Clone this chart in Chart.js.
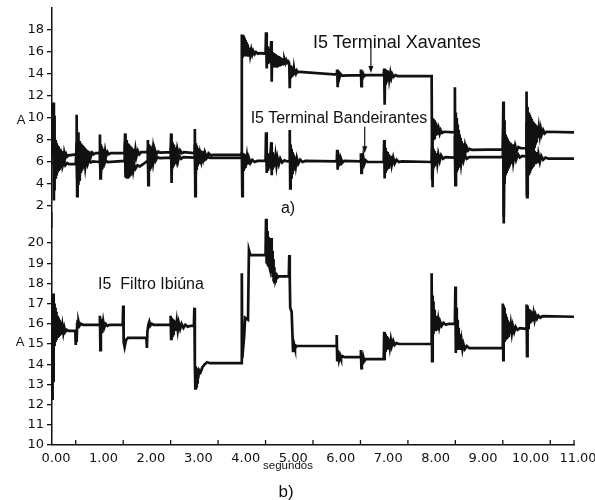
<!DOCTYPE html>
<html>
<head>
<meta charset="utf-8">
<script src="https://cdn.jsdelivr.net/npm/chart.js@4.4.1/dist/chart.umd.min.js"></script>
<style>
  html, body { margin: 0; padding: 0; background: #fff; }
  #wrap { position: relative; width: 595px; height: 500px; overflow: hidden; font-family: "Liberation Sans", Arial, sans-serif; color: #111; }
  canvas { position: absolute; left: 0; }
  #topChart { top: 0; }
  #bottomChart { top: 200px; }
  .lbl { position: absolute; transform: translate(-50%, -50%); white-space: nowrap; line-height: 1; }
</style>
</head>
<body>
<div id="wrap">
  <canvas id="bottomChart" width="595" height="300"></canvas>
  <canvas id="topChart" width="595" height="236"></canvas>
  <div class="lbl" style="left:21px;top:119px;font-size:13px">A</div>
  <div class="lbl" style="left:397px;top:42px;font-size:18px">I5 Terminal Xavantes</div>
  <div class="lbl" style="left:339px;top:118px;font-size:16px">I5 Terminal Bandeirantes</div>
  <div class="lbl" style="left:288px;top:208px;font-size:16px">a)</div>
  <div class="lbl" style="left:20px;top:341px;font-size:13px">A</div>
  <div class="lbl" style="left:151px;top:284px;font-size:16px">I5&nbsp; Filtro Ibiúna</div>
  <div class="lbl" style="left:288px;top:466px;font-size:11.5px">segundos</div>
  <div class="lbl" style="left:286px;top:491px;font-size:17px">b)</div>
</div>
<script>
// time (s), current (A)
const xavantes = [
  [0.00, 6.6], [0.02, 6.6],
  [0.03, 11.4], [0.04, 2.5], [0.045, 10.2], [0.05, 3.4], [0.06, 8.3], [0.07, 4.6], [0.08, 8.0], [0.09, 4.9], [0.10, 7.7], [0.11, 5.2], [0.12, 7.5], [0.13, 5.4], [0.14, 7.4], [0.15, 5.6], [0.16, 7.2], [0.17, 5.8], [0.18, 7.1], [0.19, 6.0], [0.20, 7.0], [0.21, 6.1], [0.22, 6.9], [0.23, 6.2], [0.24, 6.85], [0.25, 6.3], [0.26, 6.8], [0.28, 6.4], [0.30, 6.7], [0.32, 6.5], [0.35, 6.6],
  [0.51, 6.7], [0.52, 10.3], [0.53, 2.9], [0.54, 8.0], [0.55, 8.7], [0.555, 3.9], [0.56, 8.0], [0.57, 4.4], [0.58, 7.9], [0.59, 4.7], [0.60, 7.7], [0.61, 5.0], [0.62, 7.6], [0.63, 5.2], [0.64, 7.5], [0.65, 5.4], [0.66, 7.4], [0.67, 5.6], [0.68, 7.3], [0.69, 5.8], [0.70, 7.2], [0.71, 5.9], [0.72, 7.1], [0.73, 6.0], [0.74, 7.05], [0.75, 6.1], [0.76, 7.0], [0.78, 6.3], [0.80, 6.95], [0.82, 6.5], [0.85, 6.85], [0.88, 6.7], [0.92, 6.8],
  [1.00, 6.8], [1.01, 8.5], [1.02, 4.5], [1.03, 7.6], [1.04, 5.6], [1.05, 7.4], [1.06, 5.9], [1.07, 7.2], [1.08, 6.1], [1.09, 7.1], [1.10, 6.3], [1.12, 7.0], [1.14, 6.5], [1.17, 6.9], [1.20, 6.7], [1.24, 6.8],
  [1.53, 6.8], [1.54, 8.6], [1.55, 5.0], [1.56, 8.0], [1.57, 5.3], [1.58, 7.8], [1.59, 5.5], [1.60, 7.7], [1.61, 5.7], [1.62, 7.6], [1.63, 5.9], [1.64, 7.5], [1.65, 6.0], [1.66, 7.4], [1.67, 6.1], [1.68, 7.3], [1.70, 6.2], [1.72, 7.2], [1.74, 6.3], [1.76, 7.1], [1.78, 6.5], [1.81, 7.0], [1.84, 6.7], [1.88, 6.9],
  [2.01, 6.9], [2.02, 8.0], [2.03, 5.4], [2.04, 7.6], [2.05, 5.7], [2.06, 7.5], [2.07, 5.9], [2.08, 7.4], [2.09, 6.1], [2.10, 7.3], [2.11, 6.3], [2.13, 7.2], [2.15, 6.5], [2.17, 7.1], [2.20, 6.7], [2.24, 6.95], [2.28, 6.85],
  [2.50, 6.9], [2.51, 8.6], [2.52, 5.6], [2.53, 7.8], [2.54, 5.9], [2.55, 7.6], [2.56, 6.1], [2.57, 7.4], [2.58, 6.3], [2.60, 7.3], [2.62, 6.5], [2.64, 7.2], [2.67, 6.6], [2.70, 7.05], [2.74, 6.8], [2.78, 6.9],
  [3.00, 6.8], [3.01, 9.0], [3.02, 2.9], [3.03, 7.7], [3.04, 5.6], [3.05, 7.5], [3.06, 5.8], [3.07, 7.3], [3.08, 6.0], [3.09, 7.2], [3.10, 6.1], [3.12, 7.1], [3.14, 6.2], [3.16, 7.0], [3.19, 6.3], [3.22, 6.9], [3.26, 6.4], [3.30, 6.8], [3.35, 6.6], [3.40, 6.65],
  [3.99, 6.65], [4.00, 17.6], [4.005, 15.6], [4.01, 17.6], [4.02, 15.6], [4.03, 17.5], [4.04, 15.6], [4.05, 17.3], [4.06, 15.6], [4.07, 17.1], [4.08, 15.6], [4.09, 16.9], [4.10, 15.6], [4.11, 16.7], [4.12, 15.65], [4.13, 16.6], [4.14, 15.7], [4.15, 16.4], [4.16, 15.7], [4.17, 16.3], [4.18, 15.75], [4.20, 16.2], [4.22, 15.8], [4.24, 16.1], [4.27, 15.8], [4.30, 16.0], [4.34, 15.85], [4.38, 15.9],
  [4.50, 15.85], [4.51, 17.8], [4.52, 14.5], [4.53, 16.7], [4.54, 15.0], [4.55, 16.5], [4.56, 15.1], [4.57, 16.3], [4.58, 15.2], [4.59, 16.2], [4.60, 15.3], [4.61, 16.1],
  [4.62, 17.0], [4.63, 13.3], [4.64, 16.0], [4.65, 14.6], [4.66, 15.9], [4.67, 14.6], [4.68, 15.85], [4.69, 14.65], [4.70, 15.8], [4.71, 14.7], [4.72, 15.75], [4.73, 14.7], [4.74, 15.7], [4.75, 14.75], [4.76, 15.65], [4.77, 14.8], [4.78, 15.6], [4.79, 14.8], [4.80, 15.55], [4.81, 14.85], [4.82, 15.5], [4.83, 14.9], [4.84, 15.45], [4.85, 14.9], [4.86, 15.4], [4.87, 14.95], [4.88, 15.35], [4.89, 14.95], [4.90, 15.3], [4.92, 15.0], [4.94, 15.25], [4.96, 15.05], [4.98, 15.15], [4.99, 15.1],
  [5.00, 14.8], [5.01, 12.7], [5.02, 14.8], [5.03, 13.6], [5.04, 14.7], [5.05, 13.7], [5.06, 14.6], [5.07, 13.8], [5.08, 14.5], [5.09, 13.9], [5.10, 14.45], [5.11, 14.0], [5.12, 14.4], [5.14, 14.05], [5.16, 14.3], [5.18, 14.15], [5.22, 14.2],
  [6.00, 13.95], [6.01, 14.4], [6.02, 12.8], [6.03, 14.3], [6.04, 13.5], [6.05, 14.1], [6.06, 13.7], [6.08, 14.0], [6.11, 13.85],
  [6.50, 13.9], [6.51, 14.4], [6.52, 12.9], [6.53, 14.2], [6.54, 13.6], [6.56, 14.0], [6.58, 13.8], [6.61, 13.9],
  [6.99, 13.9], [7.00, 14.5], [7.01, 11.2], [7.02, 14.4], [7.03, 13.0], [7.04, 14.35], [7.05, 13.2], [7.06, 14.3], [7.07, 13.35], [7.08, 14.2], [7.09, 13.45], [7.10, 14.15], [7.11, 13.55], [7.13, 14.1], [7.15, 13.65], [7.17, 14.0], [7.20, 13.75], [7.24, 13.9], [7.28, 13.8],
  [8.00, 13.8], [8.01, 4.5], [8.02, 10.0], [8.03, 8.1], [8.04, 9.9], [8.05, 8.2], [8.06, 9.8], [8.07, 8.3], [8.08, 9.6], [8.09, 8.4], [8.10, 9.4], [8.11, 8.45], [8.12, 9.2], [8.13, 8.5], [8.15, 9.0], [8.17, 8.6], [8.19, 8.9], [8.22, 8.65], [8.26, 8.75],
  [8.48, 8.7], [8.49, 12.8], [8.50, 3.9], [8.51, 10.5], [8.52, 6.2], [8.53, 10.0], [8.54, 6.5], [8.55, 9.4], [8.56, 6.6], [8.57, 8.9], [8.58, 6.7], [8.59, 8.5], [8.60, 6.8], [8.61, 8.2], [8.62, 6.85], [8.63, 7.9], [8.64, 6.9], [8.66, 7.7], [8.68, 6.95], [8.70, 7.5], [8.72, 7.0], [8.74, 7.35], [8.77, 7.05], [8.80, 7.2], [8.85, 7.1],
  [9.50, 7.15], [9.51, 11.5], [9.52, 0.4], [9.53, 9.8], [9.535, 4.0], [9.54, 8.8], [9.55, 5.4], [9.56, 8.5], [9.57, 5.6], [9.58, 8.3], [9.59, 5.8], [9.60, 8.1], [9.61, 6.0], [9.62, 7.9], [9.63, 6.2], [9.64, 7.8], [9.65, 6.4], [9.67, 7.7], [9.69, 6.6], [9.71, 7.6], [9.73, 6.8], [9.76, 7.5], [9.79, 7.0], [9.83, 7.35], [9.88, 7.25],
  [9.99, 7.25], [10.00, 12.4], [10.01, 2.8], [10.015, 11.0], [10.02, 4.7], [10.03, 10.7], [10.04, 5.0], [10.05, 10.5], [10.06, 5.4], [10.07, 10.3], [10.08, 5.8], [10.09, 10.1], [10.10, 6.2], [10.11, 9.9], [10.12, 6.6], [10.13, 9.7], [10.14, 7.0], [10.15, 9.6], [10.16, 7.4], [10.17, 9.5], [10.18, 7.7], [10.19, 9.4], [10.20, 7.9], [10.21, 9.3], [10.22, 8.1], [10.23, 9.2], [10.24, 8.2], [10.26, 9.1], [10.28, 8.4], [10.30, 9.0], [10.32, 8.5], [10.35, 8.9], [10.38, 8.6], [10.42, 8.75], [11.00, 8.7]
];

const bandeirantes = [
  [0.00, 5.8], [0.03, 5.8], [0.04, 7.9], [0.05, 4.6], [0.06, 7.4], [0.07, 4.9], [0.08, 7.1], [0.09, 5.1], [0.10, 6.9], [0.11, 5.2], [0.12, 6.7], [0.13, 5.3], [0.14, 6.6], [0.15, 5.4], [0.16, 6.5], [0.18, 5.5], [0.20, 6.3], [0.22, 5.6], [0.25, 6.1], [0.28, 5.7], [0.32, 5.9], [0.36, 5.8],
  [0.50, 5.8], [0.52, 7.8], [0.53, 4.6], [0.54, 7.3], [0.55, 4.8], [0.56, 7.1], [0.57, 4.9], [0.58, 6.9], [0.59, 5.0], [0.60, 6.8], [0.61, 5.2], [0.62, 6.7], [0.63, 5.3], [0.64, 6.6], [0.66, 5.5], [0.68, 6.5], [0.70, 5.6], [0.72, 6.4], [0.75, 5.8], [0.78, 6.2], [0.82, 5.95], [0.86, 6.05],
  [1.00, 6.0], [1.01, 7.0], [1.02, 5.0], [1.03, 6.7], [1.04, 5.4], [1.05, 6.5], [1.06, 5.6], [1.08, 6.3], [1.10, 5.8], [1.13, 6.15], [1.17, 6.0],
  [1.53, 6.1], [1.54, 7.8], [1.55, 4.6], [1.56, 7.0], [1.57, 4.5], [1.58, 6.6], [1.59, 4.6], [1.60, 6.3], [1.61, 4.7], [1.62, 6.1], [1.63, 4.8], [1.64, 6.0], [1.65, 4.9], [1.66, 5.9], [1.67, 5.0], [1.69, 5.8], [1.71, 5.2], [1.73, 5.75], [1.76, 5.4], [1.80, 5.7], [1.85, 5.6], [1.92, 5.8], [1.98, 6.0],
  [2.01, 6.1], [2.02, 7.2], [2.03, 3.9], [2.04, 6.9], [2.05, 5.3], [2.06, 6.8], [2.07, 5.5], [2.08, 6.7], [2.09, 5.7], [2.11, 6.6], [2.13, 5.9], [2.15, 6.5], [2.18, 6.1], [2.22, 6.45], [2.27, 6.35],
  [2.50, 6.4], [2.51, 7.4], [2.52, 4.1], [2.53, 7.0], [2.54, 5.4], [2.55, 6.9], [2.56, 5.6], [2.58, 6.8], [2.60, 5.8], [2.62, 6.7], [2.65, 6.0], [2.68, 6.6], [2.72, 6.3], [2.77, 6.45],
  [3.00, 6.4], [3.01, 7.6], [3.02, 5.0], [3.03, 7.1], [3.04, 5.4], [3.05, 6.9], [3.06, 5.6], [3.08, 6.8], [3.10, 5.8], [3.12, 6.7], [3.15, 6.0], [3.18, 6.6], [3.22, 6.2], [3.27, 6.45], [3.33, 6.38],
  [3.99, 6.38], [4.00, 6.9], [4.01, 2.9], [4.02, 6.8], [4.03, 5.3], [4.04, 6.8], [4.05, 5.5], [4.06, 6.7], [4.07, 5.6], [4.08, 6.6], [4.09, 5.7], [4.11, 6.5], [4.13, 5.8], [4.15, 6.35], [4.18, 5.9], [4.22, 6.2], [4.27, 6.0], [4.33, 6.1],
  [4.50, 6.1], [4.51, 8.7], [4.52, 5.0], [4.53, 7.0], [4.54, 5.3], [4.55, 6.8], [4.56, 5.5], [4.57, 6.6], [4.58, 5.6], [4.60, 6.5],
  [4.62, 7.8], [4.63, 4.8], [4.64, 6.9], [4.65, 5.3], [4.66, 6.7], [4.67, 5.5], [4.68, 6.6], [4.69, 5.6], [4.71, 6.5], [4.73, 5.7], [4.75, 6.4], [4.78, 5.8], [4.81, 6.3], [4.85, 5.95], [4.90, 6.15], [4.95, 6.05],
  [5.00, 6.1], [5.01, 8.9], [5.02, 3.6], [5.03, 7.6], [5.04, 4.6], [5.05, 7.2], [5.06, 5.0], [5.07, 6.9], [5.08, 5.3], [5.09, 6.7], [5.10, 5.5], [5.12, 6.5], [5.14, 5.7], [5.16, 6.35], [5.19, 5.85], [5.23, 6.2], [5.28, 6.0], [5.34, 6.1],
  [6.00, 6.05], [6.01, 7.1], [6.02, 5.3], [6.03, 6.7], [6.04, 5.6], [6.05, 6.5], [6.07, 5.8], [6.09, 6.3], [6.12, 5.95], [6.16, 6.1],
  [6.50, 6.05], [6.51, 6.8], [6.52, 5.0], [6.53, 6.6], [6.54, 5.5], [6.56, 6.4], [6.58, 5.8], [6.61, 6.15], [6.65, 6.0],
  [6.99, 6.0], [7.00, 8.0], [7.01, 4.5], [7.02, 7.3], [7.03, 5.0], [7.04, 7.0], [7.05, 5.2], [7.06, 6.9], [7.07, 5.35], [7.08, 6.8], [7.09, 5.5], [7.10, 6.7], [7.12, 5.6], [7.14, 6.55], [7.16, 5.75], [7.19, 6.4], [7.22, 5.85], [7.26, 6.2], [7.31, 6.0], [7.37, 6.05],
  [8.00, 6.0], [8.01, 7.4], [8.02, 3.7], [8.03, 7.2], [8.04, 5.4], [8.05, 7.0], [8.06, 5.6], [8.07, 6.9], [8.08, 5.8], [8.10, 6.8], [8.12, 5.95], [8.14, 6.7], [8.17, 6.1], [8.20, 6.6], [8.24, 6.3], [8.29, 6.45],
  [8.48, 6.4], [8.49, 8.4], [8.50, 4.0], [8.51, 7.6], [8.52, 5.2], [8.53, 7.2], [8.54, 5.4], [8.55, 7.0], [8.56, 5.6], [8.57, 6.9], [8.58, 5.75], [8.60, 6.8], [8.62, 5.9], [8.64, 6.7], [8.67, 6.1], [8.70, 6.6], [8.74, 6.3], [8.79, 6.45],
  [9.50, 6.45], [9.51, 9.0], [9.52, 1.0], [9.53, 8.2], [9.54, 4.4], [9.55, 7.8], [9.56, 4.8], [9.57, 7.6], [9.58, 5.0], [9.59, 7.4], [9.60, 5.2], [9.61, 7.3], [9.62, 5.4], [9.63, 7.2], [9.64, 5.6], [9.66, 7.1], [9.68, 5.8], [9.70, 7.0], [9.72, 6.0], [9.75, 6.85], [9.78, 6.2], [9.82, 6.7], [9.86, 6.4], [9.91, 6.55],
  [9.99, 6.5], [10.00, 9.6], [10.01, 3.1], [10.02, 8.4], [10.03, 4.6], [10.04, 8.0], [10.05, 4.8], [10.06, 7.8], [10.07, 5.0], [10.08, 7.6], [10.09, 5.2], [10.10, 7.5], [10.11, 5.4], [10.12, 7.3], [10.13, 5.5], [10.14, 7.2], [10.15, 5.6], [10.17, 7.0], [10.19, 5.8], [10.21, 6.9], [10.23, 5.9], [10.25, 6.7], [10.28, 6.0], [10.31, 6.55], [10.35, 6.2], [10.40, 6.4], [10.46, 6.3], [11.00, 6.3]
];

const filtro = [
  [0.00, 12.3], [0.005, 13.8], [0.02, 13.8], [0.025, 17.5], [0.03, 13.1], [0.035, 17.2], [0.04, 14.6], [0.045, 17.0], [0.05, 14.9], [0.055, 16.9], [0.06, 15.0], [0.065, 16.8], [0.07, 15.1], [0.075, 16.7], [0.08, 15.15], [0.085, 16.6], [0.09, 15.2], [0.095, 16.5], [0.10, 15.25], [0.11, 16.4], [0.12, 15.3], [0.13, 16.3], [0.14, 15.35], [0.15, 16.2], [0.16, 15.4], [0.17, 16.1], [0.18, 15.45], [0.19, 16.0], [0.20, 15.5], [0.22, 15.9], [0.24, 15.55], [0.26, 15.8], [0.28, 15.6], [0.31, 15.7], [0.35, 15.65],
  [0.49, 15.65], [0.50, 14.95], [0.51, 15.7], [0.52, 15.1], [0.53, 16.0], [0.54, 16.2], [0.55, 15.85], [0.56, 16.1], [0.58, 15.9], [0.61, 16.0], [0.65, 15.95],
  [1.00, 15.95], [1.01, 16.4], [1.02, 14.7], [1.03, 16.25], [1.04, 15.6], [1.05, 16.15], [1.06, 15.7], [1.08, 16.1], [1.10, 15.8], [1.13, 16.0], [1.17, 15.9], [1.22, 15.95],
  [1.49, 15.95], [1.50, 16.9], [1.51, 15.1], [1.53, 14.85], [1.56, 15.2], [1.60, 15.3], [1.99, 15.3],
  [2.00, 14.8], [2.01, 15.6], [2.03, 15.95], [2.05, 16.1], [2.07, 15.9], [2.10, 16.0], [2.14, 15.95],
  [2.49, 15.95], [2.50, 16.4], [2.51, 15.25], [2.52, 16.3], [2.53, 15.4], [2.54, 16.25], [2.55, 15.5], [2.56, 16.2], [2.57, 15.6], [2.59, 16.15], [2.61, 15.65], [2.63, 16.1], [2.65, 15.7], [2.67, 16.05], [2.70, 15.75], [2.73, 16.0], [2.77, 15.8], [2.81, 15.95], [2.86, 15.85], [2.92, 15.9],
  [2.99, 15.9], [3.00, 16.8], [3.01, 14.0], [3.02, 12.8], [3.03, 13.9], [3.04, 12.9], [3.05, 13.8], [3.06, 13.1], [3.07, 13.75], [3.08, 13.3], [3.10, 13.7], [3.13, 13.6], [3.17, 13.85], [3.22, 14.0], [3.27, 14.1], [3.33, 14.05],
  [3.99, 14.05], [4.00, 18.5], [4.01, 14.3], [4.05, 15.4], [4.07, 16.3], [4.13, 16.2], [4.15, 19.65], [4.18, 19.4],
  [4.50, 19.4], [4.51, 21.2], [4.515, 19.0], [4.52, 21.0], [4.525, 19.1], [4.53, 20.8], [4.535, 19.0], [4.54, 20.6], [4.545, 19.1], [4.55, 20.5], [4.555, 18.9], [4.56, 20.3], [4.565, 19.0], [4.57, 20.2], [4.575, 18.9], [4.58, 20.1], [4.585, 18.8], [4.59, 20.0], [4.60, 18.8], [4.61, 19.9], [4.62, 20.25], [4.625, 18.6], [4.63, 19.8], [4.635, 18.5], [4.64, 19.6], [4.645, 18.4], [4.65, 19.4], [4.655, 18.3], [4.66, 19.2], [4.665, 18.2], [4.67, 19.0], [4.675, 18.1], [4.68, 18.8], [4.685, 18.0], [4.69, 18.6], [4.70, 18.1], [4.71, 18.5], [4.72, 18.2], [4.74, 18.4], [4.76, 18.3], [4.78, 18.35],
  [4.99, 18.35], [5.00, 19.4], [5.01, 18.3], [5.02, 16.8], [5.05, 16.6], [5.08, 14.6], [5.10, 15.0], [5.12, 14.8], [5.16, 14.9],
  [5.99, 14.9], [6.00, 15.45], [6.01, 14.2], [6.02, 14.7], [6.03, 14.2], [6.04, 14.55], [6.05, 14.25], [6.07, 14.45], [6.09, 14.3], [6.12, 14.4], [6.16, 14.35],
  [6.50, 14.35], [6.51, 14.7], [6.52, 13.8], [6.53, 14.5], [6.54, 14.0], [6.56, 14.35], [6.58, 14.15], [6.61, 14.25],
  [6.99, 14.25], [7.00, 15.6], [7.01, 14.2], [7.02, 15.5], [7.03, 14.6], [7.04, 15.4], [7.05, 14.7], [7.06, 15.35], [7.07, 14.75], [7.08, 15.3], [7.09, 14.8], [7.10, 15.25], [7.12, 14.85], [7.14, 15.2], [7.16, 14.9], [7.19, 15.15], [7.22, 14.95], [7.26, 15.05], [7.31, 15.0],
  [7.99, 15.0], [8.00, 18.5], [8.01, 14.15], [8.02, 17.4], [8.025, 15.4], [8.03, 17.1], [8.035, 15.5], [8.04, 16.9], [8.045, 15.6], [8.05, 16.7], [8.06, 15.65], [8.07, 16.5], [8.08, 15.7], [8.09, 16.4], [8.10, 15.75], [8.11, 16.3], [8.12, 15.8], [8.14, 16.2], [8.16, 15.85], [8.18, 16.1], [8.21, 15.9], [8.25, 16.05], [8.30, 15.95], [8.36, 16.0],
  [8.49, 16.0], [8.50, 17.85], [8.51, 14.55], [8.52, 16.8], [8.53, 14.7], [8.54, 16.2], [8.55, 14.75], [8.56, 15.8], [8.57, 14.7], [8.58, 15.5], [8.59, 14.7], [8.60, 15.3], [8.61, 14.7], [8.63, 15.15], [8.65, 14.75], [8.67, 15.0], [8.70, 14.75], [8.74, 14.9], [8.79, 14.8],
  [9.49, 14.8], [9.50, 17.0], [9.51, 14.2], [9.515, 16.9], [9.52, 15.0], [9.525, 16.8], [9.53, 15.1], [9.535, 16.7], [9.54, 15.2], [9.545, 16.6], [9.55, 15.25], [9.56, 16.5], [9.57, 15.3], [9.58, 16.35], [9.59, 15.35], [9.60, 16.2], [9.61, 15.4], [9.62, 16.1], [9.63, 15.45], [9.64, 16.0], [9.65, 15.5], [9.67, 15.95], [9.69, 15.55], [9.71, 15.9], [9.74, 15.6], [9.77, 15.85], [9.81, 15.7], [9.86, 15.78],
  [9.99, 15.75], [10.00, 16.95], [10.01, 14.4], [10.015, 16.9], [10.02, 15.6], [10.03, 16.8], [10.035, 15.8], [10.04, 16.75], [10.05, 15.9], [10.06, 16.7], [10.07, 16.0], [10.08, 16.65], [10.09, 16.05], [10.10, 16.6], [10.11, 16.1], [10.12, 16.55], [10.13, 16.15], [10.15, 16.5], [10.17, 16.2], [10.19, 16.45], [10.22, 16.25], [10.25, 16.4], [10.29, 16.3], [10.34, 16.38], [11.00, 16.35]
];

const topTicks = [2, 4, 6, 8, 10, 12, 14, 16, 18];
const bottomTicks = [10, 11, 12, 13, 14, 15, 16, 17, 18, 19, 20];
const timeTicks = [0, 1, 2, 3, 4, 5, 6, 7, 8, 9, 10, 11];

// arrows pointing at the two traces: [time, start value, tip value]
const topArrows = [[6.72, 16.4, 14.1], [6.59, 9.2, 6.8]];

const ink = "#111";
const tickFont = { family: "DejaVu Sans", size: 13 };

function toXY(pairs) {
  return pairs.map(p => ({ x: p[0], y: p[1] }));
}

function trace(pairs) {
  return {
    data: toXY(pairs),
    borderColor: ink,
    borderWidth: 2.7,
    pointRadius: 0,
    tension: 0,
    fill: false
  };
}

function yAxis(min, max, ticks) {
  return {
    type: "linear",
    min: min,
    max: max,
    afterFit: s => { s.width = 52; s.paddingTop = 0; s.paddingBottom = 0; },
    afterBuildTicks: s => { s.ticks = ticks.map(v => ({ value: v })); },
    grid: { drawOnChartArea: false, drawTicks: true, tickLength: 5, color: ink, lineWidth: 1.3 },
    border: { color: ink, width: 1.5 },
    ticks: { color: ink, font: tickFont, padding: 3 }
  };
}

// arrows with a filled head, placed through the scales
const arrowPlugin = {
  id: "arrows",
  afterDatasetsDraw(chart) {
    const list = chart.options.plugins.arrows.list || [];
    const { ctx, scales } = chart;
    ctx.save();
    ctx.strokeStyle = ink;
    ctx.fillStyle = ink;
    ctx.lineWidth = 1.2;
    list.forEach(a => {
      const x = scales.x.getPixelForValue(a[0]);
      const y0 = scales.y.getPixelForValue(a[1]);
      const y1 = scales.y.getPixelForValue(a[2]);
      ctx.beginPath();
      ctx.moveTo(x, y0);
      ctx.lineTo(x, y1 - 6);
      ctx.stroke();
      ctx.beginPath();
      ctx.moveTo(x - 2.5, y1 - 7);
      ctx.lineTo(x + 2.5, y1 - 7);
      ctx.lineTo(x, y1);
      ctx.closePath();
      ctx.fill();
    });
    ctx.restore();
  }
};

// short inward ticks on the time axis, between the labelled seconds
const halfTickPlugin = {
  id: "halfTicks",
  afterDraw(chart) {
    if (!chart.options.plugins.halfTicks.on) return;
    const { ctx, scales, chartArea } = chart;
    ctx.save();
    ctx.strokeStyle = ink;
    ctx.lineWidth = 1.3;
    for (let t = 0.5; t <= 11; t += 0.5) {
      if (t % 1 === 0 && t !== 11) continue;
      const x = scales.x.getPixelForValue(t);
      ctx.beginPath();
      ctx.moveTo(x, chartArea.bottom);
      ctx.lineTo(x, chartArea.bottom - 5);
      ctx.stroke();
    }
    ctx.restore();
  }
};

new Chart(document.getElementById("topChart"), {
  type: "line",
  data: { datasets: [trace(xavantes), trace(bandeirantes)] },
  options: {
    responsive: false,
    animation: false,
    layout: { padding: { top: 8, bottom: 8, left: 0, right: 21 } },
    plugins: { legend: { display: false }, tooltip: { enabled: false }, arrows: { list: topArrows }, halfTicks: { on: false } },
    scales: {
      x: { type: "linear", min: 0, max: 11, display: false },
      y: yAxis(0, 20, topTicks)
    }
  },
  plugins: [arrowPlugin, halfTickPlugin]
});

new Chart(document.getElementById("bottomChart"), {
  type: "line",
  data: { datasets: [trace(filtro)] },
  options: {
    responsive: false,
    animation: false,
    layout: { padding: { top: 12.7, bottom: 0, left: 0, right: 21 } },
    plugins: { legend: { display: false }, tooltip: { enabled: false }, arrows: { list: [] }, halfTicks: { on: true } },
    scales: {
      x: {
        type: "linear",
        min: 0,
        max: 11,
        afterFit: s => { s.height = 55; s.paddingLeft = 0; s.paddingRight = 0; },
        afterBuildTicks: s => { s.ticks = timeTicks.map(v => ({ value: v })); },
        grid: { display: false, drawTicks: false },
        border: { color: ink, width: 1.5 },
        ticks: { color: ink, font: tickFont, padding: 6, labelOffset: 4, maxRotation: 0, callback: v => v.toFixed(2) }
      },
      y: yAxis(10, 21.5, bottomTicks)
    }
  },
  plugins: [arrowPlugin, halfTickPlugin]
});
</script>
</body>
</html>
